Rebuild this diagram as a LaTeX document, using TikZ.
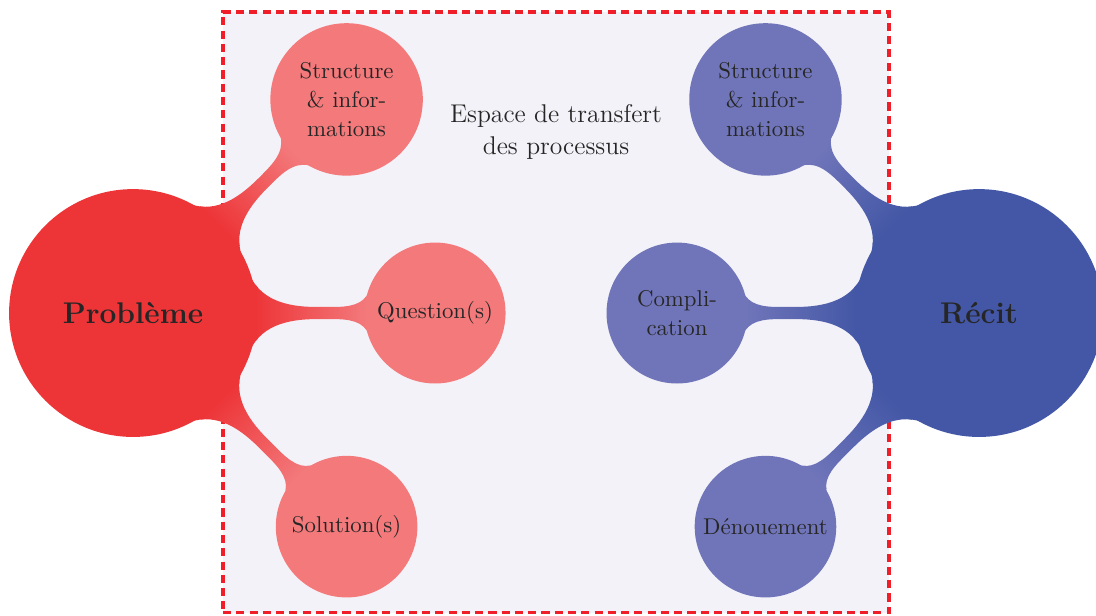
\documentclass[tikz,border=0pt]{standalone}
\usetikzlibrary{mindmap}
\definecolor{probred}{RGB}{237,53,56}
\definecolor{probchild}{RGB}{243,121,123}
\definecolor{recblue}{RGB}{67,87,166}
\definecolor{recchild}{RGB}{112,117,185}
\definecolor{spacebg}{RGB}{243,242,248}
\definecolor{dashred}{RGB}{240,30,40}
\definecolor{txt}{RGB}{38,38,38}
\begin{document}
\begin{tikzpicture}[
  rootc/.style={concept, circle, minimum size=3.83cm, inner sep=0pt, text width={}, align=center,
    font=\fontsize{13.3}{16}\selectfont\bfseries, text=txt},
  leafc/.style={concept, circle, inner sep=0pt, text width={}, align=center,
    font=\fontsize{10.15}{12.8}\selectfont, text=txt},
  spacebox/.style={draw=dashred, fill=spacebg, dash pattern=on 3.6pt off 2.3pt, line width=1.5pt,
    inner sep=0pt, minimum width=10.404cm, minimum height=9.383cm},
  spacelabel/.style={align=center, font=\fontsize{11.4}{14}\selectfont, text=txt},
  kid/.style={level distance=4.72cm}
]
\useasboundingbox (-2.078,-4.719) rectangle (15.047,4.891);
\node[spacebox] (space) at (6.608,0.0115) {};
\node[spacelabel] (spacetext) at (6.61,2.83) {Espace de transfert\\des processus};

\path[mindmap, concept color=probred, text=txt]
  node[rootc] (prob) at (0,0) {Probl\`eme}
  child[kid, grow=45, concept color=probchild] {node[leafc, minimum size=2.34cm] (ps) {Structure\\\& infor-\\mations}}
  child[kid, grow=0, concept color=probchild] {node[leafc, minimum size=2.16cm] (pq) {Question(s)}}
  child[kid, grow=-45, concept color=probchild] {node[leafc, minimum size=2.17cm] (pso) {Solution(s)}};

\path[mindmap, concept color=recblue, text=txt]
  node[rootc] (rec) at (13.22,0) {R\'ecit}
  child[kid, grow=135, concept color=recchild] {node[leafc, minimum size=2.34cm] (rs) {Structure\\\& infor-\\mations}}
  child[kid, grow=180, concept color=recchild] {node[leafc, minimum size=2.16cm] (rc) {Compli-\\cation}}
  child[kid, grow=225, concept color=recchild] {node[leafc, minimum size=2.17cm] (rd) {D\'enouement}};
\end{tikzpicture}
\end{document}
